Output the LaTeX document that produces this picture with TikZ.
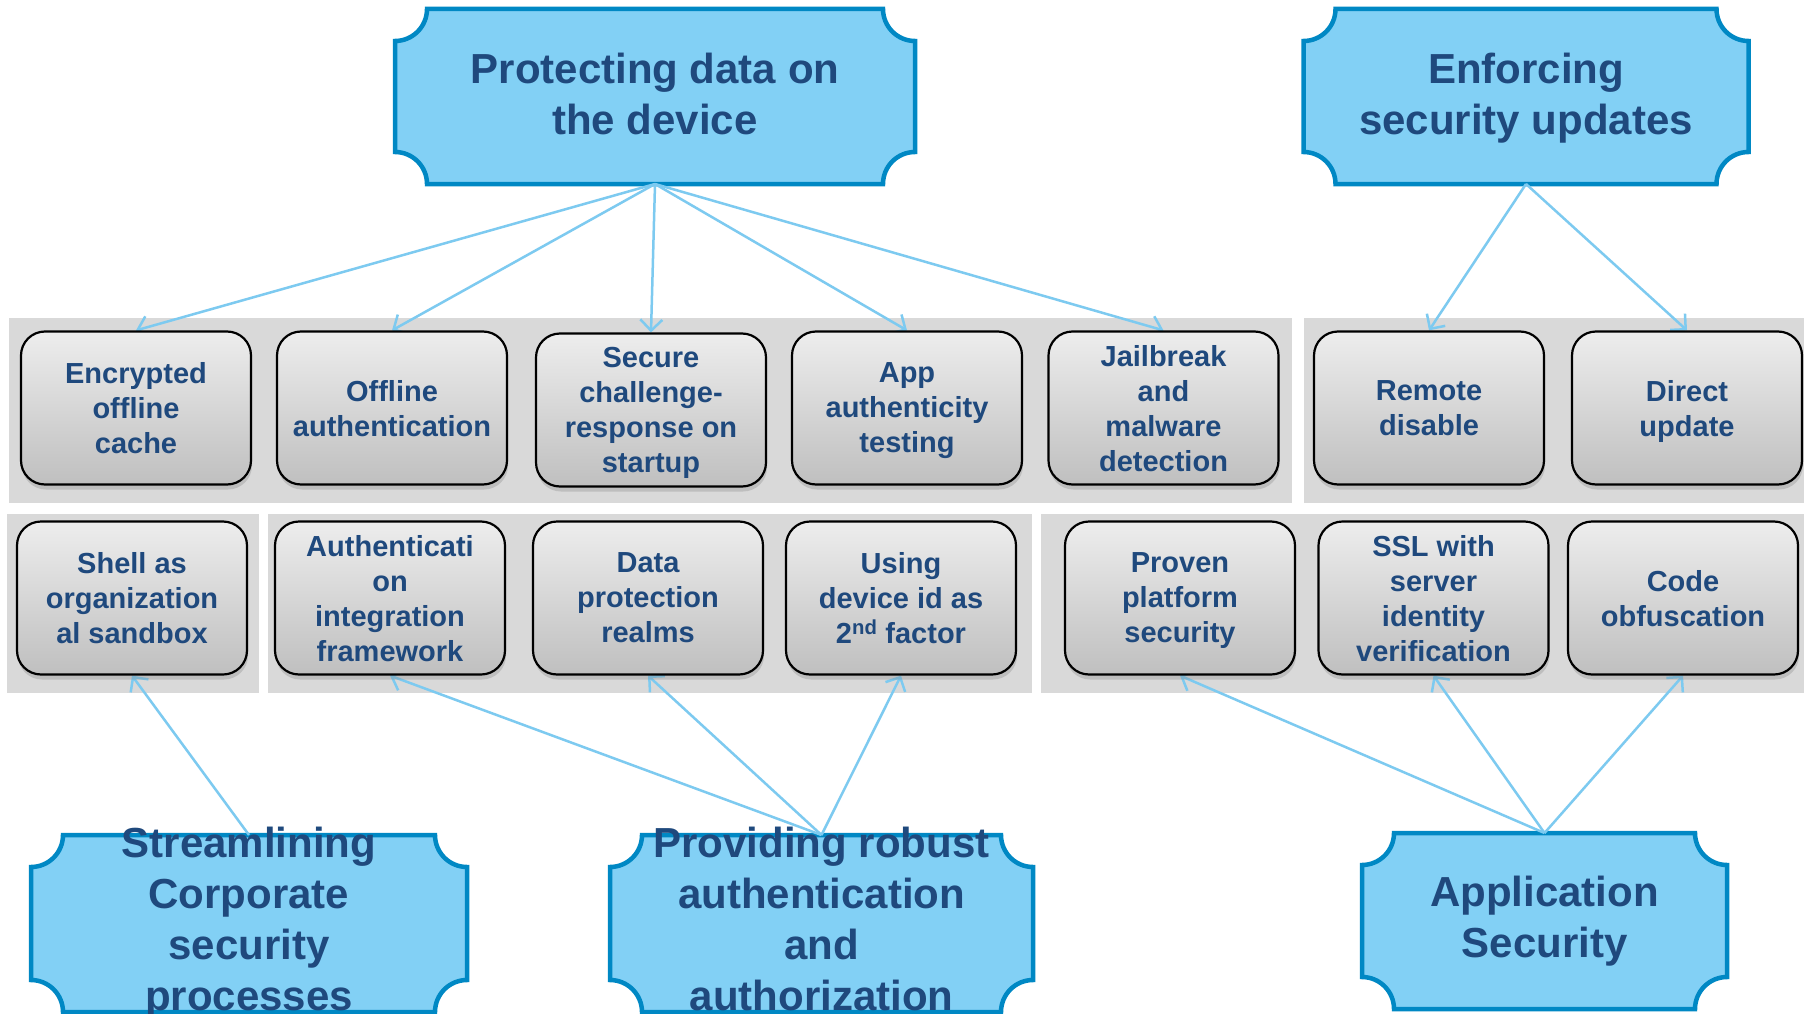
\documentclass[tikz,border=0pt]{standalone}
\usepackage{fontspec}
\setmainfont{Liberation Sans}
\usetikzlibrary{shadows,arrows.meta,calc}
\definecolor{txt}{RGB}{31,73,125}
\definecolor{banfill}{RGB}{130,208,245}
\definecolor{banline}{RGB}{0,136,196}
\definecolor{arr}{RGB}{125,202,240}
\definecolor{panel}{RGB}{217,217,217}
\pgfdeclarelayer{bg}\pgfdeclarelayer{mid}\pgfsetlayers{bg,mid,main}
\tikzset{
 box/.style={rectangle, rounded corners=24pt, draw=black, line width=2.2pt,
   top color=gray!14, bottom color=gray!50, minimum width=230pt, minimum height=153pt,
   align=center, text=txt, font=\fontsize{29}{35}\selectfont\bfseries, inner sep=0pt,
   text depth=-3pt,
   drop shadow={shadow xshift=1pt,shadow yshift=-5pt,opacity=0.3}},
 plaquebox/.style={rectangle, inner sep=0pt, outer sep=0pt},
 bannertext/.style={inner sep=0pt, outer sep=0pt, align=center, text=txt,
   text depth=9pt, font=\fontsize{42}{51}\selectfont\bfseries},
 link/.style={arr, line width=2.5pt, -{Straight Barb[length=11pt,width=22pt]}},
 plaque/.style={fill=banfill, draw=banline, line width=4.5pt},
}
\newcommand\plaquepath[1]{%
 \path[plaque] let \p1=(#1.south west), \p2=(#1.north east) in
 (\x1,{\y2-32pt}) -- (\x1,{\y1+32pt}) arc[start angle=90,end angle=0,radius=32pt]
 -- ({\x2-32pt},\y1) arc[start angle=180,end angle=90,radius=32pt]
 -- (\x2,{\y2-32pt}) arc[start angle=270,end angle=180,radius=32pt]
 -- ({\x1+32pt},\y2) arc[start angle=0,end angle=-90,radius=32pt] -- cycle;}
\begin{document}
\begin{tikzpicture}[x=1pt,y=1pt]
\useasboundingbox (0,0) rectangle (1804,-1014);
\begin{pgfonlayer}{bg}
\fill[white] (0,0) rectangle (1804,-1014);
\fill[panel] (9,-318) rectangle (1292,-503);
\fill[panel] (1304,-318) rectangle (1804,-503);
\fill[panel] (7,-514) rectangle (259,-693);
\fill[panel] (268,-514) rectangle (1032,-693);
\fill[panel] (1041,-514) rectangle (1804,-693);
\end{pgfonlayer}
% banner shapes
\node[plaquebox, minimum width=520pt, minimum height=175pt] (protP) at (655,-96.5) {};
\node[plaquebox, minimum width=445pt, minimum height=175pt] (enfP) at (1526,-96.5) {};
\node[plaquebox, minimum width=436pt, minimum height=177pt] (streamP) at (249,-923.5) {};
\node[plaquebox, minimum width=423pt, minimum height=177pt] (provP) at (821.5,-923.5) {};
\node[plaquebox, minimum width=365pt, minimum height=176pt] (appP) at (1544.5,-921) {};
% banner texts
\node[bannertext, yshift=-1.5pt] (prot) at (protP.center) {Protecting data on\\the device};
\node[bannertext, yshift=-1.5pt] (enf) at (enfP.center) {Enforcing\\security updates};
\node[bannertext] (stream) at (streamP.center) {Streamlining\\Corporate\\security\\processes};
\node[bannertext] (prov) at (provP.center) {Providing robust\\authentication\\and\\authorization};
\node[bannertext] (app) at (appP.center) {Application\\Security};
% row 1
\node[box] (enc) at (136,-408) {Encrypted\\offline\\cache};
\node[box] (off) at (392,-408) {Offline\\authentication};
\node[box] (sec) at (651,-410) {Secure\\challenge-\\response on\\startup};
\node[box] (appa) at (907,-408) {App\\authenticity\\testing};
\node[box] (jail) at (1163.5,-408) {Jailbreak\\and\\malware\\detection};
\node[box] (rem) at (1429,-408) {Remote\\disable};
\node[box] (dir) at (1687,-408) {Direct\\update};
% row 2
\node[box] (shell) at (132,-598) {Shell as\\organization\\al sandbox};
\node[box] (auth) at (390,-598) {Authenticati\\on\\integration\\framework};
\node[box] (data) at (648,-598) {Data\\protection\\realms};
\node[box] (dev) at (901,-598) {Using\\device id as\\2\textsuperscript{nd} factor};
\node[box] (prov2) at (1180,-598) {Proven\\platform\\security};
\node[box] (ssl) at (1433.5,-598) {SSL with\\server\\identity\\verification};
\node[box] (code) at (1683,-598) {Code\\obfuscation};
\begin{pgfonlayer}{mid}
\plaquepath{protP}
\plaquepath{enfP}
\plaquepath{streamP}
\plaquepath{provP}
\plaquepath{appP}
\foreach \t in {enc,off,sec,appa,jail} \draw[link] (protP.south) -- (\t.north);
\foreach \t in {rem,dir} \draw[link] (enfP.south) -- (\t.north);
\draw[link] (streamP.north) -- (shell.south);
\foreach \t in {auth,data,dev} \draw[link] (provP.north) -- (\t.south);
\foreach \t in {prov2,ssl,code} \draw[link] (appP.north) -- (\t.south);
\end{pgfonlayer}
\end{tikzpicture}
\end{document}
